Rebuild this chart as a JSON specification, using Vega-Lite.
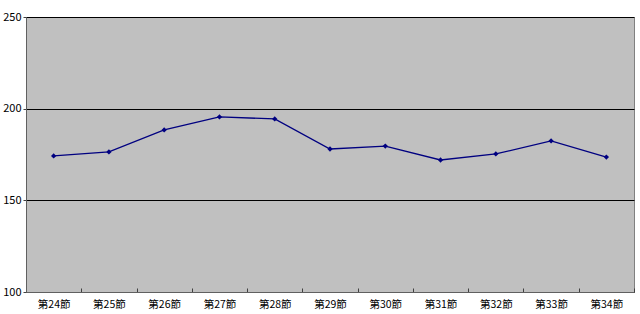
{
  "$schema": "https://vega.github.io/schema/vega-lite/v6.json",
  "width": 608,
  "height": 275,
  "autosize": {"type": "none"},
  "padding": {"left": 26, "top": 17, "right": 6, "bottom": 22},
  "background": "white",
  "config": {
    "view": {"fill": "#C0C0C0", "stroke": "#808080", "strokeWidth": 1},
    "font": "Noto Sans CJK JP"
  },
  "data": {
    "values": [
      {"round": "第24節", "value": 174.2},
      {"round": "第25節", "value": 176.4},
      {"round": "第26節", "value": 188.4},
      {"round": "第27節", "value": 195.5},
      {"round": "第28節", "value": 194.4},
      {"round": "第29節", "value": 178.0},
      {"round": "第30節", "value": 179.6},
      {"round": "第31節", "value": 172.0},
      {"round": "第32節", "value": 175.3},
      {"round": "第33節", "value": 182.4},
      {"round": "第34節", "value": 173.6}
    ]
  },
  "encoding": {
    "x": {
      "field": "round",
      "type": "ordinal",
      "sort": null,
      "scale": {"paddingInner": 0, "paddingOuter": 0},
      "axis": {
        "title": null,
        "labelAngle": 0,
        "labelFontSize": 10.5,
        "labelColor": "#000000",
        "labelPadding": 11,
        "domainColor": "#606060",
        "tickColor": "#404040",
        "tickSize": -4,
        "tickBand": "extent",
        "grid": false
      }
    },
    "y": {
      "field": "value",
      "type": "quantitative",
      "scale": {"domain": [100, 250], "nice": false, "zero": false},
      "axis": {
        "title": null,
        "values": [100, 150, 200, 250],
        "labelFontSize": 11,
        "labelColor": "#000000",
        "labelPadding": 2,
        "domainColor": "#606060",
        "tickColor": "#404040",
        "tickSize": 3,
        "grid": true,
        "gridColor": "#000000",
        "gridWidth": 1
      }
    }
  },
  "layer": [
    {"mark": {"type": "line", "color": "#000080", "strokeWidth": 1.3}},
    {"mark": {"type": "point", "shape": "diamond", "filled": true, "color": "#000080", "size": 28, "opacity": 1}}
  ]
}
